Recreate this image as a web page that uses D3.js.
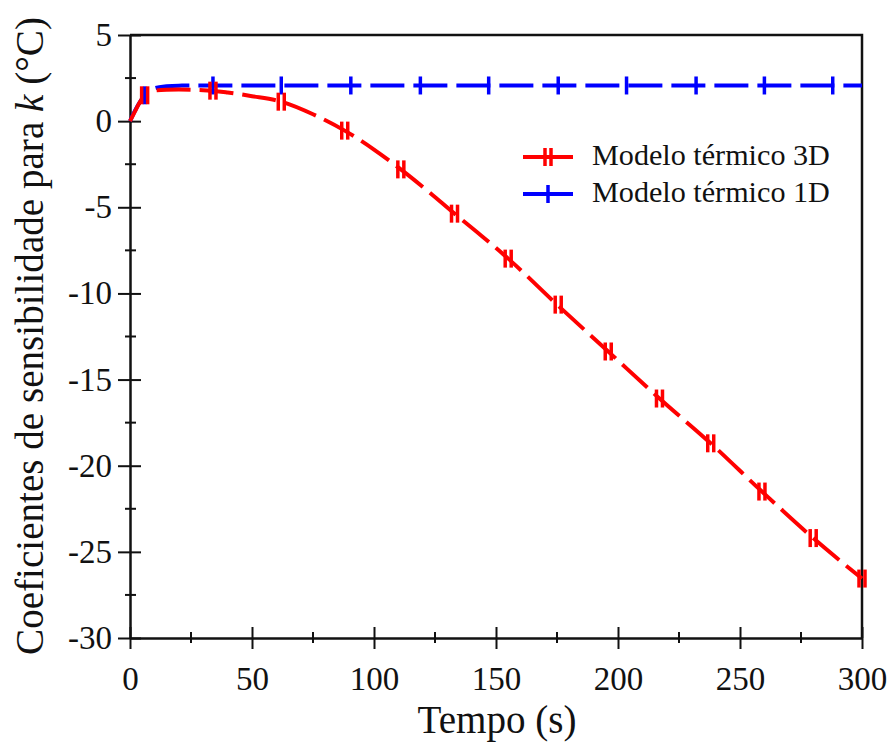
<!DOCTYPE html>
<html>
<head>
<meta charset="utf-8">
<script src="https://cdn.jsdelivr.net/npm/d3@7"></script>
<style>
  body { margin: 0; background: #fff; }
  svg { font-family: "Liberation Serif", "Times New Roman", serif; }
</style>
</head>
<body>
<script>
// curve samples (s, °C)
const time3D = [0, 2, 4, 6, 8, 10, 15, 20, 30, 40, 50, 62, 75, 88, 100, 111, 122, 133, 144, 155, 175, 196, 217, 238, 259, 280, 300];
const value3D = [0, 0.55, 1.1, 1.5, 1.7, 1.77, 1.82, 1.83, 1.8, 1.66, 1.45, 1.13, 0.4, -0.55, -1.65, -2.8, -4.05, -5.37, -6.65, -7.98, -10.65, -13.37, -16.1, -18.7, -21.5, -24.2, -26.55];
const time1D = [0, 2, 4, 6, 8, 10, 15, 20, 30, 300];
const value1D = [0, 0.6, 1.1, 1.5, 1.75, 1.9, 2.02, 2.06, 2.07, 2.07];

// marker positions
const mark3DTime = [6, 34, 62, 88, 111, 133, 155, 175.5, 196, 217, 238, 259, 280, 300];
const mark3DValue = [1.5, 1.77, 1.13, -0.55, -2.8, -5.37, -7.98, -10.65, -13.37, -16.1, -18.7, -21.5, -24.2, -26.55];
const mark1DTime = [6, 34, 62, 90.5, 119, 147, 175.5, 203.5, 232, 260, 288];
const mark1DValue = [1.5, 2.07, 2.07, 2.07, 2.07, 2.07, 2.07, 2.07, 2.07, 2.07, 2.07];

const xTicks = [0, 50, 100, 150, 200, 250, 300];
const yTicks = [5, 0, -5, -10, -15, -20, -25, -30];
const seriesNames = ['Modelo térmico 3D', 'Modelo térmico 1D'];
const seriesColors = ['#ff0000', '#0000ff'];

const W = 892, H = 742;
const padL = 130, padR = 862, padT = 35, padB = 638;

const svg = d3.select('body').append('svg')
  .attr('width', W).attr('height', H);

const x = d3.scaleLinear().domain([0, 300]).range([padL, padR]);
const y = d3.scaleLinear().domain([-30, 5]).range([padB, padT]);

// scale a text's font so that it spans the given width
function fitText(sel, target) {
  const fs = +sel.attr('font-size');
  const len = sel.node().getComputedTextLength();
  sel.attr('font-size', fs * target / len);
}

// frame (top and right, no ticks)
svg.append('path')
  .attr('d', `M${padL},${padT}H${padR}V${padB}`)
  .attr('fill', 'none').attr('stroke', '#111').attr('stroke-width', 2.5);

// minor ticks
const xMinor = d3.range(25, 300, 50);
const yMinor = d3.range(-27.5, 5, 5);
svg.selectAll('.xminor').data(xMinor).enter().append('line')
  .attr('x1', d => x(d)).attr('x2', d => x(d))
  .attr('y1', padB - 6).attr('y2', padB + 5)
  .attr('stroke', '#111').attr('stroke-width', 2);
svg.selectAll('.yminor').data(yMinor).enter().append('line')
  .attr('x1', padL - 5).attr('x2', padL + 6)
  .attr('y1', d => y(d)).attr('y2', d => y(d))
  .attr('stroke', '#111').attr('stroke-width', 2);

// x axis
const xAxis = svg.append('g')
  .attr('transform', `translate(0,${padB})`)
  .call(d3.axisBottom(x).tickValues(xTicks).tickFormat(d => String(d))
    .tickSize(11).tickPadding(18).tickSizeOuter(0));
xAxis.select('.domain').attr('stroke', '#111').attr('stroke-width', 2.5);
xAxis.selectAll('.tick line').attr('y1', -11).attr('stroke', '#111').attr('stroke-width', 2);
xAxis.selectAll('.tick text').attr('font-size', 33).attr('fill', '#111')
  .attr('font-family', '"Liberation Serif", serif');

// y axis
const yAxis = svg.append('g')
  .attr('transform', `translate(${padL},0)`)
  .call(d3.axisLeft(y).tickValues(yTicks).tickFormat(d => String(d))
    .tickSize(12).tickPadding(6).tickSizeOuter(0));
yAxis.select('.domain').attr('stroke', '#111').attr('stroke-width', 2.5);
yAxis.selectAll('.tick line').attr('x1', 11).attr('stroke', '#111').attr('stroke-width', 2);
yAxis.selectAll('.tick text').attr('font-size', 33).attr('fill', '#111')
  .attr('font-family', '"Liberation Serif", serif');

// lines
const line = d3.line().x(d => x(d[0])).y(d => y(d[1])).curve(d3.curveMonotoneX);
const series = [
  { t: time3D, v: value3D, mt: mark3DTime, mv: mark3DValue, color: seriesColors[0], dbl: true },
  { t: time1D, v: value1D, mt: mark1DTime, mv: mark1DValue, color: seriesColors[1], dbl: false }
];

const plot = svg.append('g');
series.slice().reverse().forEach(s => {
  plot.append('path')
    .datum(d3.zip(s.t, s.v))
    .attr('d', line)
    .attr('fill', 'none')
    .attr('stroke', s.color)
    .attr('stroke-width', 4)
    .attr('stroke-dasharray', '34,9');
});

function marker(g, cx, cy, s) {
  const offs = s.dbl ? [-3, 3] : [0];
  offs.forEach(o => {
    g.append('line')
      .attr('x1', cx + o).attr('x2', cx + o)
      .attr('y1', cy - 9).attr('y2', cy + 9)
      .attr('stroke', s.color).attr('stroke-width', 3.5);
  });
}

series.slice().reverse().forEach(s => {
  s.mt.forEach((t, i) => marker(plot, x(t), y(s.mv[i]), s));
});

// legend
const legend = svg.append('g');
series.forEach((s, i) => {
  const ly = 157 + i * 37;
  legend.append('line')
    .attr('x1', 523).attr('x2', 573).attr('y1', ly).attr('y2', ly)
    .attr('stroke', s.color).attr('stroke-width', 4);
  marker(legend, 548, ly, s);
  const lt = legend.append('text')
    .attr('x', 592).attr('y', ly + 8)
    .attr('font-size', 26).attr('fill', '#111')
    .text(seriesNames[i]);
  fitText(lt, 238);
});

// axis titles
const xt = svg.append('text')
  .attr('x', 497).attr('y', 733)
  .attr('text-anchor', 'middle').attr('font-size', 35).attr('fill', '#111')
  .text('Tempo (s)');
fitText(xt, 159);

const yt = svg.append('text')
  .attr('transform', 'translate(43,336) rotate(-90)')
  .attr('text-anchor', 'middle').attr('font-size', 34).attr('fill', '#111');
yt.append('tspan').text('Coeficientes de sensibilidade para ');
yt.append('tspan').attr('font-style', 'italic').text('k');
yt.append('tspan').text(' (°C)');
fitText(yt, 638);
</script>
</body>
</html>
